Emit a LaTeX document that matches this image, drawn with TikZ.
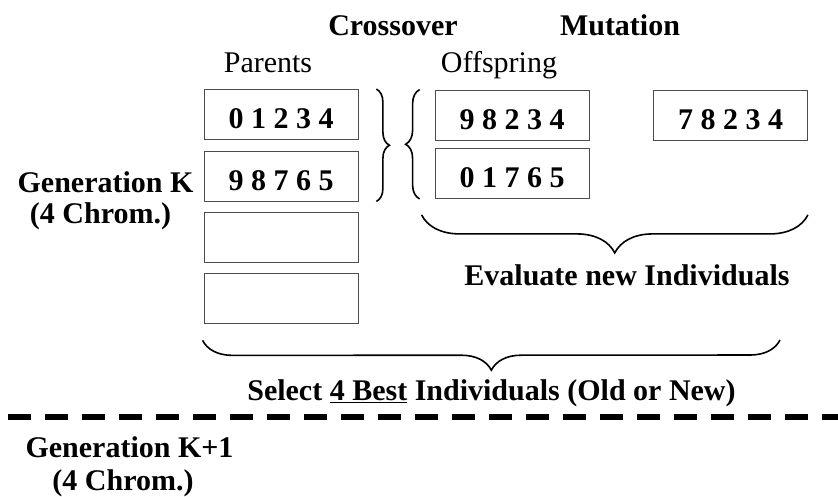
\documentclass[tikz,border=0pt]{standalone}
\usepackage{fontspec}
\setmainfont{Liberation Serif}
\usetikzlibrary{decorations.pathreplacing, calc}

\tikzset{
    txt/.style={font=\fontsize{30}{35}\selectfont, inner sep=0pt, anchor=base},
    hd/.style={txt, font=\fontsize{30}{35}\selectfont\bfseries},
    chrom/.style={draw=black!70, line width=0.8pt, minimum width=154pt, minimum height=50pt,
        inner sep=0pt, text height=28pt, text depth=0pt, font=\fontsize{30}{35}\selectfont\bfseries},
    brc/.style={decorate, decoration={brace, amplitude=#1}, line width=1.6pt},
}

\begin{document}
\begin{tikzpicture}[x=1pt, y=-1pt]
    \useasboundingbox (0,0) rectangle (838,496);

    % headings
    \node[hd] (cross) at (393,35) {Crossover};
    \node[hd] (mut) at (620,35) {Mutation};
    \node[txt] (par) at (268,72) {Parents};
    \node[txt] (off) at (499,72) {Offspring};

    % generation K
    \node[hd] (genk) at (105.5,192) {Generation K};
    \node[hd] (genkc) at (100.5,223) {(4 Chrom.)};
    \node[chrom] (p1) at (281,114.5) {0 1 2 3 4};
    \node[chrom] (p2) at (281,176) {9 8 7 6 5};
    \node[chrom] (p3) at (281,237) {};
    \node[chrom] (p4) at (281,298) {};

    % crossover and mutation
    \node[chrom] (o1) at (512,115) {9 8 2 3 4};
    \node[chrom] (o2) at (512,173.5) {0 1 7 6 5};
    \node[chrom] (m1) at (730.5,115.5) {7 8 2 3 4};

    \draw[brc=13pt] ($(p1.north east)+(18,0)$) -- ($(p2.south east)+(18,0)$);
    \draw[brc=14pt] ($(o2.south west)+(-15,0)$) -- ($(o1.north west)+(-15,0)$);

    % evaluation and selection
    \coordinate (evr) at ($(m1.east |- o2.south)+(0,16)$);
    \coordinate (evl) at ($(o2.south west)+(-13,16)$);
    \draw[brc=38pt] (evr) -- (evl);
    \node[hd] (eval) at (627,285) {Evaluate new Individuals};

    \coordinate (sell) at ($(p4.south west)+(-1,17)$);
    \coordinate (selr) at (780,340);
    \draw[brc=30pt] (selr) -- (sell);
    \node[hd] (sel) at (491.5,400) {Select \underline{4 Best} Individuals (Old or New)};

    \draw[line width=6pt, dash pattern=on 23pt off 14pt] (8,416.5) -- (850,416.5);

    % generation K+1
    \node[hd] (genk1) at (129.5,457) {Generation K+1};
    \node[hd] (genk1c) at (123,490) {(4 Chrom.)};
\end{tikzpicture}
\end{document}
